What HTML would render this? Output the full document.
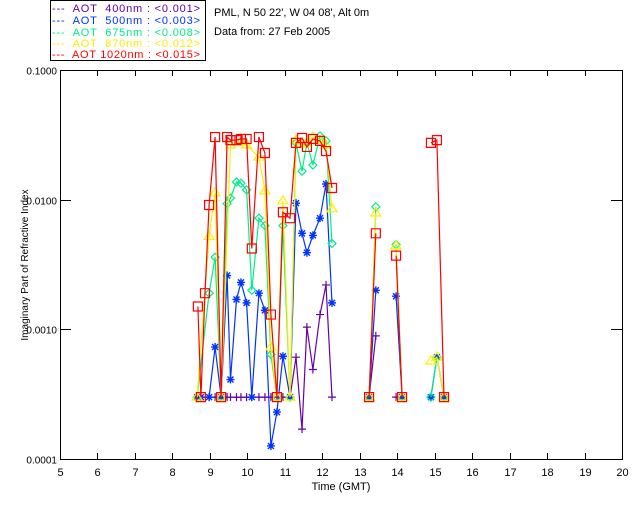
<!DOCTYPE html>
<html><head><meta charset="utf-8"><style>
html,body{margin:0;padding:0;background:#fff;}
svg{display:block;font-family:"Liberation Sans",sans-serif;}
</style></head><body>
<svg id="chart" width="640" height="512" viewBox="0 0 640 512" xmlns="http://www.w3.org/2000/svg">
<rect x="0" y="0" width="640" height="512" fill="#fff"/>
<g>
<rect x="50.5" y="0.5" width="155" height="60" fill="none" stroke="#000"/>
<text x="52" y="12" font-size="11" fill="#6600aa" textLength="148" xml:space="preserve">---  AOT  400nm : &lt;0.001&gt;</text>
<text x="52" y="24" font-size="11" fill="#0033ff" textLength="148" xml:space="preserve">---  AOT  500nm : &lt;0.003&gt;</text>
<text x="52" y="36" font-size="11" fill="#00ee88" textLength="148" xml:space="preserve">---  AOT  675nm : &lt;0.008&gt;</text>
<text x="52" y="47" font-size="11" fill="#ffee00" textLength="148" xml:space="preserve">---  AOT  870nm : &lt;0.012&gt;</text>
<text x="52" y="58" font-size="11" fill="#ff0000" textLength="148" xml:space="preserve">---  AOT 1020nm : &lt;0.015&gt;</text>
</g>
<text x="214" y="16" font-size="11" fill="#000">PML, N 50 22', W 04 08', Alt 0m</text>
<text x="214" y="35" font-size="11" fill="#000">Data from: 27 Feb 2005</text>
<g id="axes"></g>
<g id="series"></g>
<text x="341" y="490" font-size="11" text-anchor="middle" fill="#000">Time (GMT)</text>
<text transform="translate(28,265) rotate(-90)" font-size="10" text-anchor="middle" fill="#000">Imaginary Part of Refractive Index</text>
</svg>
<script>
const xTicks=[5,6,7,8,9,10,11,12,13,14,15,16,17,18,19,20];
const yTicks=[0.0001,0.001,0.01,0.1];
const yTickLabels=["0.0001","0.0010","0.0100","0.1000"];
const t400=[8.66,8.76,8.98,9.14,9.30,9.46,9.55,9.71,9.83,9.98,10.12,10.31,10.47,10.63,10.79,10.95,11.14,11.30,11.46,11.59,11.75,11.94,12.10,12.26,13.25,13.43,13.97,14.13];
const v400=[0.0003,0.0003,0.0003,0.0003,0.0003,0.0003,0.0003,0.0003,0.0003,0.0003,0.0003,0.0003,0.0003,0.0003,0.0003,0.0003,0.0003,0.00061,0.00017,0.00104,0.00049,0.0013,0.0022,0.0003,0.0003,0.00089,0.0003,0.0003];
const t500=[8.66,8.76,8.98,9.14,9.30,9.46,9.55,9.71,9.83,9.98,10.12,10.31,10.47,10.63,10.79,10.95,11.14,11.30,11.46,11.59,11.75,11.94,12.10,12.26,13.25,13.43,13.97,14.13,14.90,15.06,15.25];
const v500=[0.0003,0.0003,0.0003,0.00073,0.0003,0.0026,0.00041,0.0017,0.0023,0.0016,0.0003,0.0019,0.0014,0.000126,0.00023,0.00062,0.0003,0.0094,0.0055,0.0039,0.0053,0.0072,0.0132,0.0016,0.0003,0.0020,0.0018,0.0003,0.0003,0.00061,0.0003];
const t675=[8.66,8.98,9.14,9.30,9.46,9.55,9.71,9.83,9.98,10.12,10.31,10.47,10.63,10.79,10.95,11.14,11.30,11.46,11.59,11.75,11.94,12.10,12.26,13.25,13.43,13.97,14.13,14.90,15.06,15.25];
const v675=[0.0003,0.0019,0.0036,0.0003,0.0093,0.0103,0.0137,0.0134,0.0119,0.0020,0.0072,0.0063,0.00064,0.0003,0.0063,0.0003,0.0274,0.0166,0.0274,0.0185,0.0310,0.0284,0.0046,0.0003,0.0088,0.0045,0.0003,0.0003,0.00061,0.0003];
const t870=[8.66,8.98,9.14,9.30,9.55,9.83,9.98,10.31,10.47,10.63,10.79,10.95,11.14,11.30,11.46,11.59,11.75,11.94,12.10,12.26,13.25,13.43,13.97,14.13,14.90,15.06,15.25];
const v870=[0.0003,0.0052,0.0113,0.0003,0.0264,0.0279,0.0264,0.0213,0.0117,0.00073,0.0003,0.0098,0.0003,0.0288,0.0269,0.0274,0.0304,0.0288,0.0264,0.0085,0.0003,0.0079,0.0044,0.0003,0.00057,0.00061,0.0003];
const t1020=[8.68,8.76,8.87,8.98,9.14,9.30,9.46,9.55,9.71,9.83,9.98,10.12,10.31,10.47,10.63,10.79,10.95,11.14,11.30,11.46,11.59,11.75,11.94,12.10,12.26,13.25,13.43,13.97,14.13,14.90,15.06,15.25];
const v1020=[0.0015,0.0003,0.0019,0.0091,0.0304,0.0003,0.0304,0.0288,0.0288,0.0294,0.0294,0.0042,0.0304,0.0229,0.0013,0.0003,0.0080,0.0072,0.0274,0.0299,0.0255,0.0294,0.0284,0.0237,0.0123,0.0003,0.0055,0.0037,0.0003,0.0274,0.0288,0.0003];

const NS="http://www.w3.org/2000/svg";
const L=60,R=622,T=70,B=459;
function xs(t){return L+(t-5)/15*(R-L);}
function ys(v){return T+(-1-Math.log10(v))/3*(B-T);}
function mk(tag,attrs,parent){const e=document.createElementNS(NS,tag);for(const k in attrs)e.setAttribute(k,attrs[k]);parent.appendChild(e);return e;}
const axes=document.getElementById('axes');
const frame=mk('rect',{x:L+.5,y:T+.5,width:R-L,height:B-T,fill:'none',stroke:'#000'},axes);


xTicks.forEach(t=>{
  const x=Math.round(xs(t))+.5;
  const a=mk('path',{d:`M${x} ${B}V${B-6}M${x} ${T}V${T+6}`,stroke:'#000'},axes);
  
  
  const l=mk('text',{x:x,y:B+17,'font-size':11,'text-anchor':'middle'},axes);l.textContent=t;
  
  
});
yTicks.forEach((v,i)=>{
  const y=Math.round(ys(v))+.5;
  const a=mk('path',{d:`M${L} ${y}H${L+11}M${R} ${y}H${R-11}`,stroke:'#000'},axes);
  
  
  const l=mk('text',{x:L-3,y:y+4,'font-size':10,'text-anchor':'end'},axes);l.textContent=yTickLabels[i];
  
  
});
const ser=document.getElementById('series');
function marker(type,x,y,c,g){
  let d;
  if(type==='plus')d=`M${x-4} ${y}H${x+4}M${x} ${y-4}V${y+4}`;
  else if(type==='star')d=`M${x-4} ${y}H${x+4}M${x} ${y-4}V${y+4}M${x-3} ${y-3}L${x+3} ${y+3}M${x-3} ${y+3}L${x+3} ${y-3}`;
  else if(type==='diamond')d=`M${x} ${y-4}L${x+4} ${y}L${x} ${y+4}L${x-4} ${y}Z`;
  else if(type==='tri')d=`M${x} ${y-5}L${x+5} ${y+3}L${x-5} ${y+3}Z`;
  else d=`M${x-4.5} ${y-4.5}h9v9h-9Z`;
  const m=mk('path',{d:d,stroke:c,fill:'none','stroke-width':type==='star'?1.4:1.2},g);
  
  
}
function draw(ts,vs,c,type,name){
  const g=mk('g',{},ser);
  
  
  let d='';
  ts.forEach((t,i)=>{
    const cmd=(i===0||t-ts[i-1]>0.4)?'M':'L';
    d+=cmd+xs(t).toFixed(1)+' '+ys(vs[i]).toFixed(1);
  });
  const pl=mk('path',{d:d,fill:'none',stroke:c,'stroke-width':1.2},g);
  
  
  ts.forEach((t,i)=>marker(type,xs(t),ys(vs[i]),c,g));
}
draw(t400,v400,'#6600aa','plus','series-400nm');
draw(t500,v500,'#0033ff','star','series-500nm');
draw(t675,v675,'#00ee88','diamond','series-675nm');
draw(t870,v870,'#ffee00','tri','series-870nm');
draw(t1020,v1020,'#ff0000','square','series-1020nm');
</script>
</body></html>
